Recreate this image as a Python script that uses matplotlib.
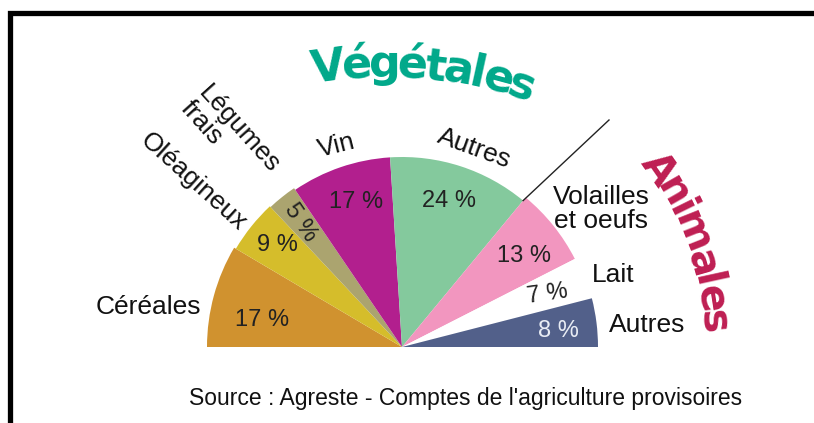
"""
plot.py -- half pie of French agricultural production shares
(vegetal vs animal), redrawn from the reference picture.
"""
import matplotlib
matplotlib.use("Agg")
import matplotlib.pyplot as plt
import numpy as np

plt.rcParams['font.family'] = ['Liberation Sans', 'DejaVu Sans']

# ---------- data ----------
categories = ["Céréales", "Oléagineux", "Légumes\nfrais", "Vin", "Autres",
              "Volailles\net oeufs", "Lait", "Autres"]
shares = [17, 9, 5, 17, 24, 13, 7, 8]
pct_labels = ["17 %", "9 %", "5 %", "17 %", "24 %", "13 %", "7 %", "8 %"]
colors = ["#D0922F", "#D5BD2B", "#ABA46F", "#B21F8E", "#84C99D",
          "#F296BF", "#FFFFFF", "#52608A"]
pct_colors = ["#222222"] * 7 + ["#E8ECF4"]
n_vegetal = 5
group_titles = ["Végétales", "Animales"]
group_colors = ["#00A88A", "#BE1E52"]
source = "Source : Agreste - Comptes de l'agriculture provisoires"

# ---------- layout (image pixel coords, y down) ----------
W, H = 814, 423
CX, CY = 402, 347
radii = [195, 193, 192, 190, 190, 194, 194, 196]

def Y(y):
    return H - y

# label: (x, y, rotation)
cat_pos = [(148, 307, 0), (193, 182, -42), (230, 137, -48), (337, 146, 14),
           (474, 148, -20), (601, 209, 0), (613, 275, 0), (647, 325, 0)]
pct_pos = [(262, 320, 0), (277, 245, 0), (300, 223, -56), (356, 202, 0),
           (449, 201, 0), (524, 256, 0), (547, 294, 8), (558, 331, 0)]

fig = plt.figure(figsize=(W / 100, H / 100), dpi=100)
ax = fig.add_axes([0, 0, 1, 1])

fracs = [s / 200 for s in shares]  # half circle
wedges, _ = ax.pie(fracs, colors=colors, startangle=180, counterclock=False,
                   center=(CX, Y(CY)), radius=max(radii), normalize=False,
                   wedgeprops=dict(linewidth=0))
for w, r in zip(wedges, radii):
    w.set_radius(r)

for lab, (x, y, rot) in zip(categories, cat_pos):
    ax.text(x, Y(y), lab, fontsize=19, ha='center', va='center',
            rotation=rot, rotation_mode='anchor', color='#111111',
            multialignment='left' if rot else 'center', linespacing=1.0)
for lab, c, (x, y, rot) in zip(pct_labels, pct_colors, pct_pos):
    ax.text(x, Y(y), lab, fontsize=17, ha='center', va='center',
            rotation=rot, rotation_mode='anchor', color=c)

# separator between vegetal and animal parts
split = np.deg2rad(180 - 1.8 * sum(shares[:n_vegetal]))
x0 = CX + radii[n_vegetal - 1] * np.cos(split)
y0 = Y(CY) + radii[n_vegetal - 1] * np.sin(split)
ax.plot([x0, 609], [y0, Y(120)], color='#222222', lw=1.0)


def arc_text(word, cx, cy, rad, mid_deg, size, color, squeeze=1.0):
    rend = fig.canvas.get_renderer()
    widths = []
    for ch in word:
        t = ax.text(0, 0, ch, fontsize=size, fontweight='bold', family='DejaVu Sans')
        widths.append(t.get_window_extent(renderer=rend).width * squeeze)
        t.remove()
    ang = np.deg2rad(mid_deg) + sum(widths) / 2 / rad
    for ch, w in zip(word, widths):
        a = ang - w / 2 / rad
        ax.text(cx + rad * np.cos(a), cy + rad * np.sin(a), ch, fontsize=size,
                fontweight='bold', family='DejaVu Sans', color=color,
                rotation=np.rad2deg(a) - 90, rotation_mode='anchor',
                ha='center', va='baseline')
        ang -= w / rad


arc_text(group_titles[0], 385, Y(497), 420, 84.8, 32, group_colors[0], 0.87)
arc_text(group_titles[1], CX, Y(CY), 300, 20, 29, group_colors[1], 0.88)

ax.text(466, Y(398), source, fontsize=16.5, ha='center', va='center', color='#111111')

# frame of the original figure box
ax.plot([10, 10, W + 5], [-5, Y(12.5), Y(12.5)], color='black', lw=3.8,
        solid_joinstyle='miter')

ax.set_xlim(0, W)
ax.set_ylim(0, H)
ax.set_aspect('auto')
ax.axis('off')

plt.savefig("out.png", dpi=100)
